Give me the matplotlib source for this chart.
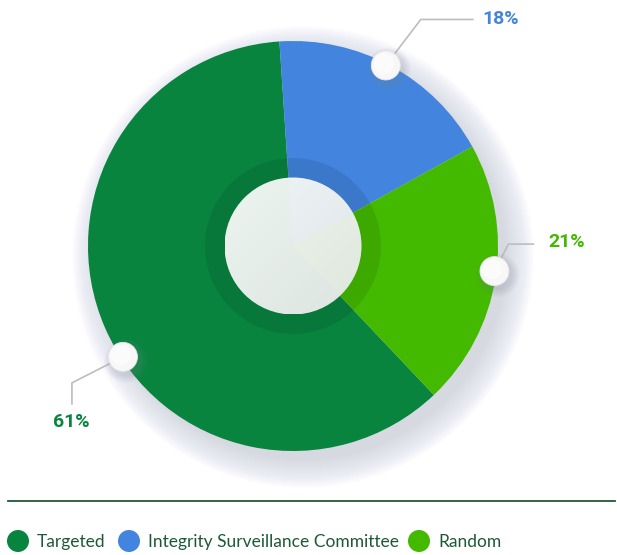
import numpy as np
import matplotlib
matplotlib.use("Agg")
import matplotlib.pyplot as plt
from matplotlib.patches import Circle, Wedge
from matplotlib.lines import Line2D

# ---- data ----
categories = ["Targeted", "Integrity Surveillance Committee", "Random"]
values = [61, 18, 21]
labels = ["61%", "18%", "21%"]
colors = ["#08843f", "#4384df", "#43b900"]

W, H = 617, 555
fig = plt.figure(figsize=(W / 100, H / 100), dpi=100)
ax = fig.add_axes([0, 0, 1, 1])

cx, cy = 293, H - 246
R = 205

# soft shadow
for i in range(30):
    r = R + 26 - i
    ax.add_patch(Circle((cx + 10, cy - 11), r, color=(0.80, 0.82, 0.88), alpha=0.03, lw=0, zorder=1))

start = -46.6
wedges, _ = ax.pie(values, colors=colors, startangle=start, counterclock=False,
                   center=(cx, cy), radius=R, frame=True,
                   wedgeprops=dict(linewidth=0, zorder=2))
ax.set_xlim(0, W)
ax.set_ylim(0, H)
ax.set_aspect("equal")
ax.axis("off")

# inner darker ring
ax.add_patch(Wedge((cx, cy), 88, 0, 360, width=20, color="black", alpha=0.09, lw=0, zorder=3))

# center circle with gradient
n = 200
yy, xx = np.mgrid[-1:1:n * 1j, -1:1:n * 1j]
grad = (xx + yy)
img = np.ones((n, n, 4))
top = np.array([0.975, 0.98, 0.975])
bot = np.array([0.90, 0.915, 0.91])
t = (grad - grad.min()) / (grad.max() - grad.min())
for k in range(3):
    img[..., k] = top[k] * (1 - t) + bot[k] * t
rc = 68.5
im = ax.imshow(img, extent=(cx - rc, cx + rc, cy - rc, cy + rc), origin="upper", zorder=4)
clip = Circle((cx, cy), rc, transform=ax.transData)
im.set_clip_path(clip)
# faint tint of the slices through the center disc
for w, col in zip(wedges, colors):
    ax.add_patch(Wedge((cx, cy), rc, w.theta1, w.theta2, color=col, alpha=0.045, lw=0, zorder=4.5))
ax.set_xlim(0, W)
ax.set_ylim(0, H)

# label dots and leader lines
angle_shift = [9.5, 1.4, 1.7]
elbows = [((-51, -26), (-51, -47)), ((35, 46), (87, 46)), ((14, 27), (39, 27))]
text_off = [(-52, -65), (115, 46), (72, 29)]
for w, lab, col, sh, el, to in zip(wedges, labels, colors, angle_shift, elbows, text_off):
    th = np.deg2rad((w.theta1 + w.theta2) / 2 + sh)
    px, py = cx + (R - 2) * np.cos(th), cy + (R - 2) * np.sin(th)
    ax.add_line(Line2D([px, px + el[0][0], px + el[1][0]], [py, py + el[0][1], py + el[1][1]],
                       color="#bdbdbd", lw=1.2, zorder=5))
    for i in range(8):
        ax.add_patch(Circle((px + 3, py - 4), 14 + 8 - i, color=(0.5, 0.52, 0.6), alpha=0.03, lw=0, zorder=5))
    ax.add_patch(Circle((px, py), 14.5, facecolor="#f7f7f7", edgecolor="#e6e6e6", lw=0.6, zorder=6))
    ax.add_patch(Circle((px - 2, py + 2), 10, facecolor="white", edgecolor="none", alpha=0.6, zorder=6))
    ax.text(px + to[0], py + to[1], lab, color=col, fontsize=14, fontweight="bold",
            family="Roboto", ha="center", va="center", zorder=7)

# divider line
ax.add_line(Line2D([8, 615], [H - 501, H - 501], color="#1c5a36", lw=1.3))

# legend
leg_x = [18, 129, 419]
for x, cat, col in zip(leg_x, categories, colors):
    ax.add_patch(Circle((x, H - 541), 11, color=col, lw=0))
    ax.text(x + 19, H - 542, cat, color="#1c5a36", fontsize=12.5, family="Lato",
            ha="left", va="center")

fig.savefig("out.png", dpi=100)
